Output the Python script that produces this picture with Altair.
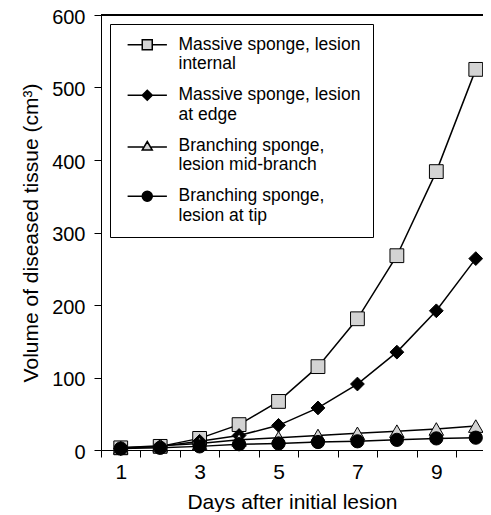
import altair as alt
import pandas as pd

days = [1, 2, 3, 4, 5, 6, 7, 8, 9, 10]
series_names = [
    "Massive sponge, lesion|internal",
    "Massive sponge, lesion|at edge",
    "Branching sponge,|lesion mid-branch",
    "Branching sponge,|lesion at tip",
]
massive_internal = [3, 5, 16, 35, 67, 115, 181, 268, 384, 525]
massive_edge = [2, 5, 12, 20, 34, 58, 91, 135, 192, 264]
branching_mid = [3, 6, 9, 14, 17, 20, 23, 26, 29, 33]
branching_tip = [2, 3, 5, 8, 9, 11, 12, 14, 16, 17]
all_values = [massive_internal, massive_edge, branching_mid, branching_tip]
x_tick_values = [1, 2, 3, 4, 5, 6, 7, 8, 9, 10]
y_tick_values = [0, 100, 200, 300, 400, 500, 600]

fills = ["#d3d3d3", "black", "#d3d3d3", "black"]
plot_shapes = ["square", "diamond", "triangle-up", "circle"]
plot_sizes = [190, 190, 210, 175]

legend_paths = [
    "M-3.93,0H-1M1,0H3.93M-1,-1H1V1H-1Z",
    "M-3.93,0H-1M1,0H3.93M0,-1L1,0L0,1L-1,0Z",
    "M-3.93,0.25H-0.8M0.8,0.25H3.93M0,-0.85L1,0.85H-1Z",
    "M-3.93,0H-1M1,0H3.93M1,0A1,1 0 1,1 -1,0A1,1 0 1,1 1,0Z",
]

rows = []
for name, vals in zip(series_names, all_values):
    for d, v in zip(days, vals):
        rows.append({"day": d, "volume": v, "series": name})
df = pd.DataFrame(rows)

FONT = "Liberation Sans"
PXDAY = 39.45
W, H = 382, 435
XMAX = 0.5 + W / PXDAY

xscale = alt.Scale(domain=[0.5, XMAX], nice=False, zero=False)
yscale = alt.Scale(domain=[0, 600], nice=False)

x_axis = alt.Axis(
    values=x_tick_values,
    format="d",
    tickOffset=-PXDAY / 2,
    labelOffset=PXDAY / 2,
    labelOverlap="parity",
    labelSeparation=25,
    labelFlush=False,
    tickSize=7,
    labelPadding=4,
    labelFontSize=21,
    grid=False,
    title="Days after initial lesion",
    titlePadding=9,
)
y_axis = alt.Axis(
    values=y_tick_values,
    tickSize=7,
    labelPadding=9,
    labelOffset=2,
    labelFontSize=20,
    grid=False,
    title="Volume of diseased tissue (cm³)",
    titlePadding=10,
)

base = alt.Chart(df)

lines = base.mark_line(color="black", strokeWidth=1.5, clip=False).encode(
    x=alt.X("day:Q", scale=xscale, axis=x_axis),
    y=alt.Y("volume:Q", scale=yscale, axis=y_axis),
    detail="series:N",
    order="day:Q",
)

point_layers = []
for name, shp, fc, sz in zip(series_names, plot_shapes, fills, plot_sizes):
    point_layers.append(
        base.transform_filter(alt.datum.series == name)
        .mark_point(shape=shp, filled=True, fill=fc, stroke="black", strokeWidth=1,
                    size=sz, opacity=1, clip=False)
        .encode(x=alt.X("day:Q", scale=xscale), y=alt.Y("volume:Q", scale=yscale))
    )

legend_cfg = alt.Legend(
    title=None,
    orient="none",
    legendX=9,
    legendY=9,
    strokeColor="black",
    fillColor="white",
    padding=12,
    rowPadding=12.5,
    labelOffset=22.5,
    symbolOffset=16.5,
    labelLimit=400,
    labelFontSize=17.5,
    labelFont=FONT,
    labelColor="black",
    labelExpr="split(datum.label, '|')",
    symbolStrokeColor="black",
    symbolStrokeWidth=1.5,
    symbolOpacity=1,
)

legend_layer = base.transform_filter("false").mark_point(
    filled=True, strokeWidth=1.5, size=196, opacity=1
).encode(
    x=alt.X("day:Q", scale=xscale),
    y=alt.Y("volume:Q", scale=yscale),
    shape=alt.Shape("series:N", scale=alt.Scale(domain=series_names, range=legend_paths), legend=legend_cfg),
    fill=alt.Fill("series:N", scale=alt.Scale(domain=series_names, range=fills), legend=legend_cfg),
    stroke=alt.Stroke("series:N", scale=alt.Scale(domain=series_names, range=["black"] * 4), legend=legend_cfg),
)

top_rule = alt.Chart(df).mark_rule(color="black", strokeWidth=1).encode(
    x=alt.datum(0.5, scale=xscale),
    x2=alt.datum(XMAX),
    y=alt.datum(600, scale=yscale),
)

chart = (
    alt.layer(lines, *point_layers, legend_layer, top_rule)
    .properties(
        width=W,
        height=H,
        autosize=alt.AutoSizeParams(type="none"),
        padding={"left": 93, "top": 7, "right": 0, "bottom": 62},
    )
    .configure_view(stroke=None)
    .configure_axis(
        labelFont=FONT,
        titleFont=FONT,
        titleFontSize=21,
        labelColor="black",
        titleColor="black",
        titleFontWeight="normal",
        domainColor="black",
        tickColor="black",
        domainWidth=1,
        tickWidth=1,
    )
)

chart.save("out.html", embed_options={"renderer": "svg", "actions": False})
